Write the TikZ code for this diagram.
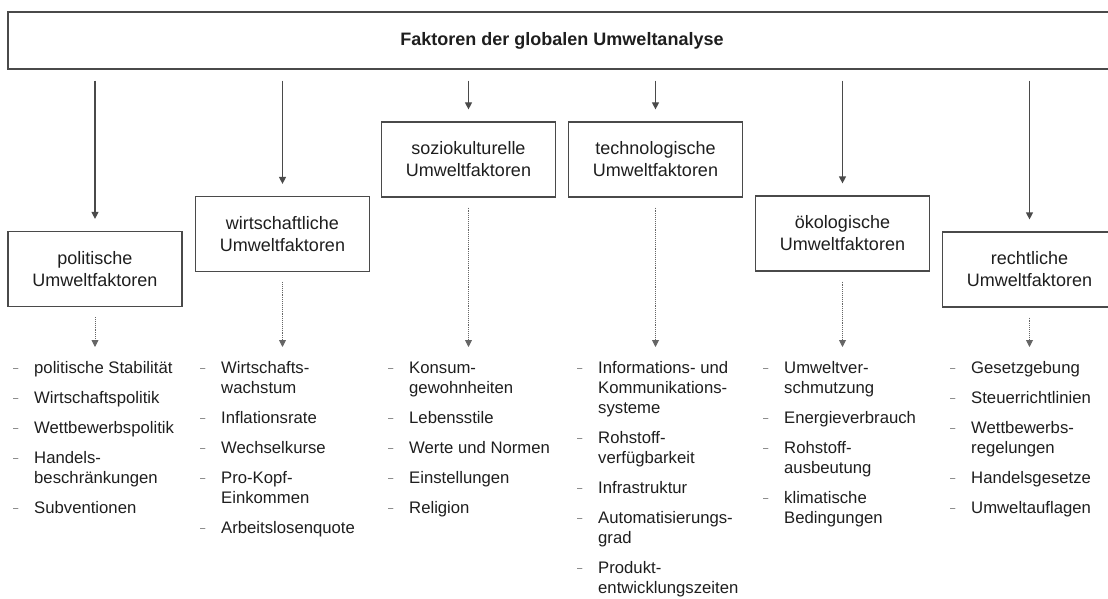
\documentclass[tikz,border=0pt]{standalone}
\usepackage{fontspec}
\setmainfont{Liberation Sans}
\usepackage{array}
\usetikzlibrary{arrows.meta}
\definecolor{linec}{HTML}{4A4A4A}
\definecolor{textc}{HTML}{1E1E1E}
\newcommand\dsh{\raisebox{1.5pt}{\color{linec}\fontsize{9.5}{9.5}\selectfont –}}
\newcommand\nx{\\\noalign{\vskip10pt}}
\newcommand\Lst[1]{\begin{tabular}[t]{@{}p{21pt}@{}>{\raggedright\arraybackslash}p{170pt}@{}}#1\end{tabular}}
\tikzset{
  box/.style={draw=linec, line width=1.2pt, minimum width=174pt, minimum height=75pt,
    inner sep=0pt, align=center, text=textc, font=\fontsize{18}{22}\selectfont},
  arr/.style={draw=linec, line width=1.2pt, -{Triangle[width=7pt,length=7pt]}},
  darr/.style={draw=linec!85, line width=0.9pt, densely dotted, -{Triangle[width=7pt,length=7pt]}},
  lst/.style={anchor=base west, inner sep=0pt, text=textc, font=\fontsize{16.7}{20}\selectfont}
}
\begin{document}
\begin{tikzpicture}[x=1pt,y=-1pt]
\useasboundingbox (0,0) rectangle (1108,599);
\clip (0,0) rectangle (1108,599);
\node[draw=linec, line width=1.2pt, minimum width=1108pt, minimum height=57pt, inner sep=0pt,
  text=textc, font=\bfseries\fontsize{18}{22}\selectfont] (top) at (562,40.5) {Faktoren der globalen Umweltanalyse};

\node[box] (pol)   at (95,269)     {politische\\Umweltfaktoren};
\node[box] (wirt)  at (282.5,234)  {wirtschaftliche\\Umweltfaktoren};
\node[box] (sozio) at (468.5,159.5){soziokulturelle\\Umweltfaktoren};
\node[box] (tech)  at (655.5,159.5){technologische\\Umweltfaktoren};
\node[box] (oeko)  at (842.5,233.5){ökologische\\Umweltfaktoren};
\node[box] (recht) at (1029.5,269.5){rechtliche\\Umweltfaktoren};

\coordinate (tip) at (0,347);
\foreach \b in {pol,wirt,sozio,tech,oeko,recht}{
  \draw[arr, shorten <=11pt, shorten >=12pt] (top.south -| \b.north) -- (\b.north);
  \draw[darr, shorten <=10pt] (\b.south) -- (\b.south |- tip);
}

\node[lst] (l1) at (13,373) {\Lst{%
\dsh & politische Stabilität\nx
\dsh & Wirtschaftspolitik\nx
\dsh & Wettbewerbspolitik\nx
\dsh & Handels-\newline beschränkungen\nx
\dsh & Subventionen}};
\node[lst] (l2) at (200,373) {\Lst{%
\dsh & Wirtschafts-\newline wachstum\nx
\dsh & Inflationsrate\nx
\dsh & Wechselkurse\nx
\dsh & Pro-Kopf-\newline Einkommen\nx
\dsh & Arbeitslosenquote}};
\node[lst] (l3) at (388,373) {\Lst{%
\dsh & Konsum-\newline gewohnheiten\nx
\dsh & Lebensstile\nx
\dsh & Werte und Normen\nx
\dsh & Einstellungen\nx
\dsh & Religion}};
\node[lst] (l4) at (577,373) {\Lst{%
\dsh & Informations- und\newline Kommunikations-\newline systeme\nx
\dsh & Rohstoff-\newline verfügbarkeit\nx
\dsh & Infrastruktur\nx
\dsh & Automatisierungs-\newline grad\nx
\dsh & Produkt-\newline entwicklungszeiten}};
\node[lst] (l5) at (763,373) {\Lst{%
\dsh & Umweltver-\newline schmutzung\nx
\dsh & Energieverbrauch\nx
\dsh & Rohstoff-\newline ausbeutung\nx
\dsh & klimatische\newline Bedingungen}};
\node[lst] (l6) at (950,373) {\Lst{%
\dsh & Gesetzgebung\nx
\dsh & Steuerrichtlinien\nx
\dsh & Wettbewerbs-\newline regelungen\nx
\dsh & Handelsgesetze\nx
\dsh & Umweltauflagen}};
\end{tikzpicture}
\end{document}
